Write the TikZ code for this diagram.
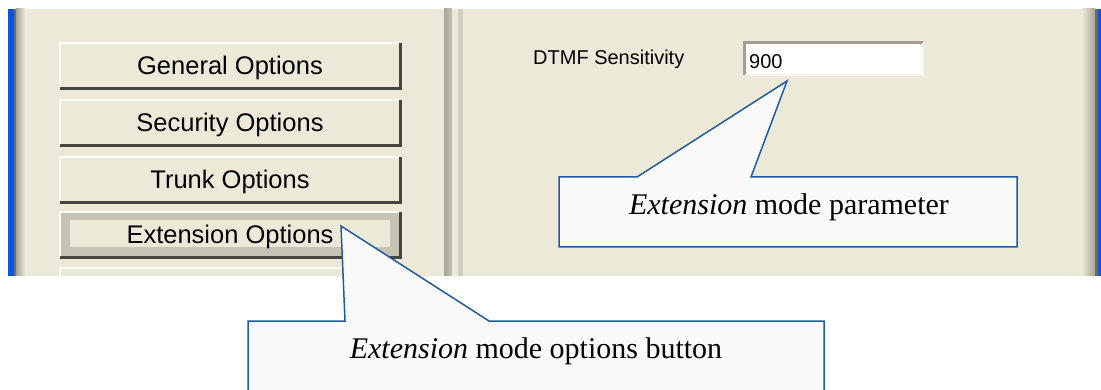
\documentclass[tikz,border=0pt]{standalone}
\usepackage{fontspec}
\setmainfont{Liberation Serif}
\setsansfont{Liberation Sans}
\definecolor{xpbeige}{HTML}{ECE9D8}
\definecolor{xpblue}{HTML}{0A54E0}
\definecolor{framegray}{HTML}{6E6C66}
\definecolor{bargray}{HTML}{A8A496}
\definecolor{ringgray}{HTML}{C6C2B4}
\definecolor{btndark}{HTML}{45443F}
\definecolor{fieldgray}{HTML}{A29E90}
\definecolor{calloutblue}{HTML}{1F5C9E}
\definecolor{calloutfill}{HTML}{FAFAFA}
\begin{document}
\begin{tikzpicture}[x=1pt, y=-1pt,
  btnfont/.style={text height=22pt, text depth=3pt, font=\sffamily\fontsize{25.5}{30}\selectfont},
  winbtn/.style={btnfont, fill=xpbeige, minimum width=340pt, minimum height=45pt, inner sep=0pt},
  btnhi/.style={draw=white, line width=2pt},
  btnlo/.style={draw=btndark, line width=3pt},
  guitext/.style={inner sep=0pt, font=\sffamily\fontsize{20}{24}\selectfont},
  note/.style={inner sep=0pt, font=\fontsize{30}{36}\selectfont},
  callout/.style={draw=calloutblue, line width=1.5pt, line join=miter}]
  \useasboundingbox (0,0) rectangle (1101,390);
  \fill[white] (0,0) rectangle (1101,390);
  % window frame
  \fill[xpbeige] (8,9) rectangle (1101,276);
  \fill[xpblue] (8,9) rectangle (14,276);
  \fill[framegray] (14,9) rectangle (16,276);
  \shade[left color=bargray, right color=xpbeige] (16,9) rectangle (25,276);
  \shade[left color=xpbeige, right color=bargray] (1082,9) rectangle (1095,276);
  \fill[framegray] (1095,9) rectangle (1098,276);
  \fill[xpblue] (1098,9) rectangle (1101,276);
  % panel separator
  \shade[left color=bargray, right color=ringgray] (444,9) rectangle (452,276);
  \fill[ringgray!70!xpbeige] (458,9) rectangle (463,276);
  % option buttons
  \node[winbtn] (gen) at (230,65.5) {General Options};
  \node[winbtn] (sec) at (230,122.5) {Security Options};
  \node[winbtn] (trunk) at (230,179.5) {Trunk Options};
  \node[winbtn, fill=ringgray] (ext) at (230,234.5) {};
  \fill[xpbeige] (70,220) rectangle (390,247);
  \node[btnfont, inner sep=0pt] (extlabel) at (ext) {Extension Options};
  \foreach \b in {gen,sec,trunk,ext} {
    \draw[btnhi] (\b.south west) -- (\b.north west) -- (\b.north east);
    \draw[btnlo] (\b.south west) -- (\b.south east) -- (\b.north east);
  }
  \fill[xpbeige] (60,268) rectangle (400,276);
  \draw[btnhi] (60,276) -- (60,268) -- (400,268);
  % DTMF field
  \node[guitext, anchor=west] (dtmf) at (533,59) {DTMF Sensitivity};
  \node[fill=white, minimum width=178pt, minimum height=32pt, inner sep=0pt] (field) at (834,59) {};
  \draw[fieldgray, line width=3pt] (field.south west) -- (field.north west) -- (field.north east);
  \draw[white!60!xpbeige, line width=1.5pt] (field.south west) -- (field.south east) -- (field.north east);
  \node[guitext, anchor=west] (val) at (749,62) {900};
  % callouts
  \coordinate (parmtip) at (787,81);
  \filldraw[callout, fill=calloutfill] (559,177) -- (637,177) -- (parmtip) -- (751,177)
    -- (1017,177) -- (1017,247) -- (559,247) -- cycle;
  \node[note] (parm) at (789,207) {\textit{Extension} mode parameter};
  \coordinate (btntip) at (341,226);
  \fill[calloutfill] (248,321) -- (345,321) -- (btntip) -- (489,321) -- (824,321)
    -- (824,392) -- (248,392) -- cycle;
  \draw[callout] (248,392) -- (248,321) -- (345,321) -- (btntip) -- (489,321)
    -- (824,321) -- (824,392);
  \node[note] (btnnote) at (536,351) {\textit{Extension} mode options button};
\end{tikzpicture}
\end{document}
